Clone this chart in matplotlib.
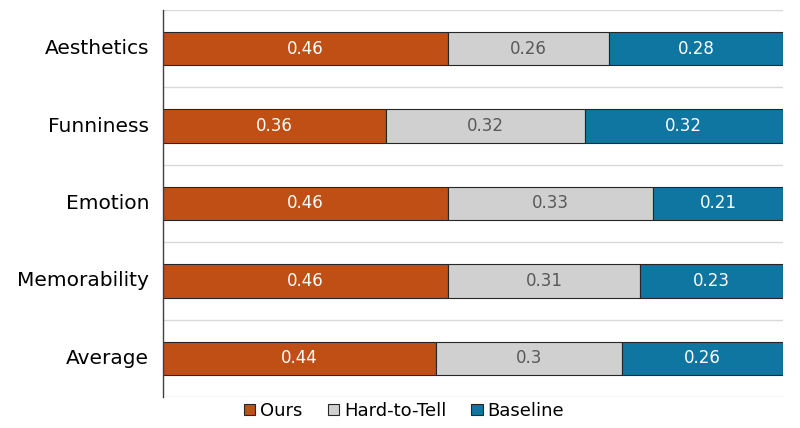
import matplotlib
matplotlib.use("Agg")
import matplotlib.pyplot as plt
import numpy as np

plt.rcParams['font.family'] = ['DejaVu Sans']

categories = ["Aesthetics", "Funniness", "Emotion", "Memorability", "Average"]
ours = [0.46, 0.36, 0.46, 0.46, 0.44]
hard = [0.26, 0.32, 0.33, 0.31, 0.3]
baseline = [0.28, 0.32, 0.21, 0.23, 0.26]
series_names = ["Ours", "Hard-to-Tell", "Baseline"]
colors = ["#C04F15", "#D0D0D0", "#0E76A0"]
text_colors = ["white", "#595959", "white"]

fig = plt.figure(figsize=(8, 4.28), dpi=100)
ax = fig.add_axes([163/800, 1 - 397/428, (783 - 163)/800, (397 - 10)/428])

y = np.arange(len(categories))
left = np.zeros(len(categories))
for vals, name, c, tc in zip([ours, hard, baseline], series_names, colors, text_colors):
    bars = ax.barh(y, vals, left=left, height=0.43, color=c, edgecolor="#262626",
                   linewidth=0.8, label=name, zorder=3)
    for yi, v, l in zip(y, vals, left):
        ax.text(l + v / 2, yi, f"{v:g}", ha="center", va="center", color=tc,
                fontsize=12, zorder=4)
    left = left + np.array(vals)

ax.set_xlim(0, 1)
ax.set_ylim(len(categories) - 0.5, -0.5)
for b in np.arange(-0.5, len(categories), 1.0):
    ax.axhline(b, color="#D9D9D9", linewidth=1, zorder=1)
ax.set_yticks(y)
ax.set_yticklabels(categories, fontsize=14.5, va="center")
ax.tick_params(axis="y", length=0, pad=10)
ax.set_xticks([])
for s in ["top", "right", "bottom"]:
    ax.spines[s].set_visible(False)
ax.spines["left"].set_color("#404040")
ax.spines["left"].set_linewidth(1)
ax.spines["left"].set_zorder(5)

fig.legend(loc="center", bbox_to_anchor=(404/800, 1 - 411/428), ncol=3, frameon=False,
           fontsize=13, handlelength=0.62, handleheight=0.62, handletextpad=0.28,
           columnspacing=1.4, borderaxespad=0)

fig.savefig("out.png", dpi=100)
